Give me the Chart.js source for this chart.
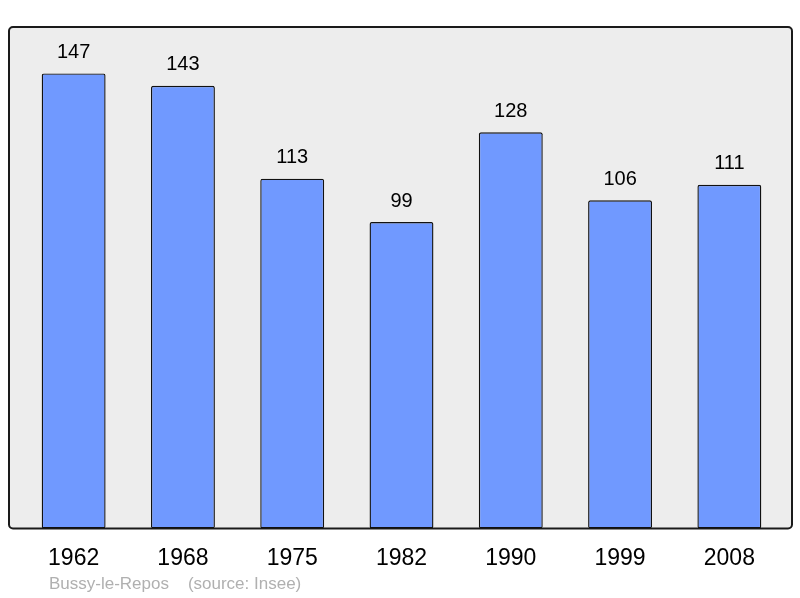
<!DOCTYPE html>
<html>
<head>
<meta charset="utf-8">
<script src="https://cdn.jsdelivr.net/npm/chart.js@4.4.0/dist/chart.umd.min.js"></script>
<style>
  html, body { margin: 0; padding: 0; background: #fff; }
  #wrap { width: 800px; height: 598px; }
</style>
</head>
<body>
<div id="wrap"><canvas id="c"></canvas></div>
<script>
// Population by census year
const years = ['1962', '1968', '1975', '1982', '1990', '1999', '2008'];
const population = [147, 143, 113, 99, 128, 106, 111];
const footerText = 'Bussy-le-Repos    (source: Insee)';

const FONT = "'Liberation Sans', Arial, sans-serif";

// Grey frame behind the bars, value labels and footer
const framePlugin = {
    id: 'frame',
    beforeDatasetsDraw(chart) {
        const ctx = chart.ctx;
        const a = chart.chartArea;
        ctx.save();
        ctx.beginPath();
        ctx.roundRect(a.left - 10, a.top, (a.right - a.left) + 18, a.bottom - a.top, 4);
        ctx.fillStyle = '#ededed';
        ctx.fill();
        ctx.lineWidth = 2;
        ctx.strokeStyle = '#1a1a1a';
        ctx.stroke();
        ctx.restore();
    },
    afterDatasetsDraw(chart) {
        const ctx = chart.ctx;
        const meta = chart.getDatasetMeta(0);
        ctx.save();
        ctx.font = '20px ' + FONT;
        ctx.fillStyle = '#000';
        ctx.textAlign = 'center';
        ctx.textBaseline = 'bottom';
        meta.data.forEach((bar, i) => {
            ctx.fillText(String(population[i]), bar.x, bar.y - 11);
        });
        ctx.font = '17px ' + FONT;
        ctx.fillStyle = '#b0b0b0';
        ctx.textAlign = 'left';
        ctx.textBaseline = 'middle';
        ctx.fillText(footerText, 49, 584);
        ctx.restore();
    }
};

new Chart(document.getElementById('c'), {
    type: 'bar',
    data: {
        labels: years,
        datasets: [{
            data: population,
            backgroundColor: '#7099ff',
            borderColor: '#111',
            borderWidth: 1.4,
            borderRadius: 2,
            borderSkipped: false,
            categoryPercentage: 1,
            barPercentage: 0.585,
        }]
    },
    options: {
        responsive: true,
        maintainAspectRatio: false,
        animation: false,
        layout: { padding: { top: 27, left: 19, right: 16, bottom: 10 } },
        plugins: {
            legend: { display: false },
            tooltip: { enabled: false }
        },
        scales: {
            x: {
                grid: { display: false, drawTicks: false },
                border: { display: false },
                ticks: { color: '#000', font: { family: FONT, size: 23 }, padding: 16, maxRotation: 0 }
            },
            y: {
                display: false,
                min: 0,
                max: 162
            }
        }
    },
    plugins: [framePlugin]
});
</script>
</body>
</html>
